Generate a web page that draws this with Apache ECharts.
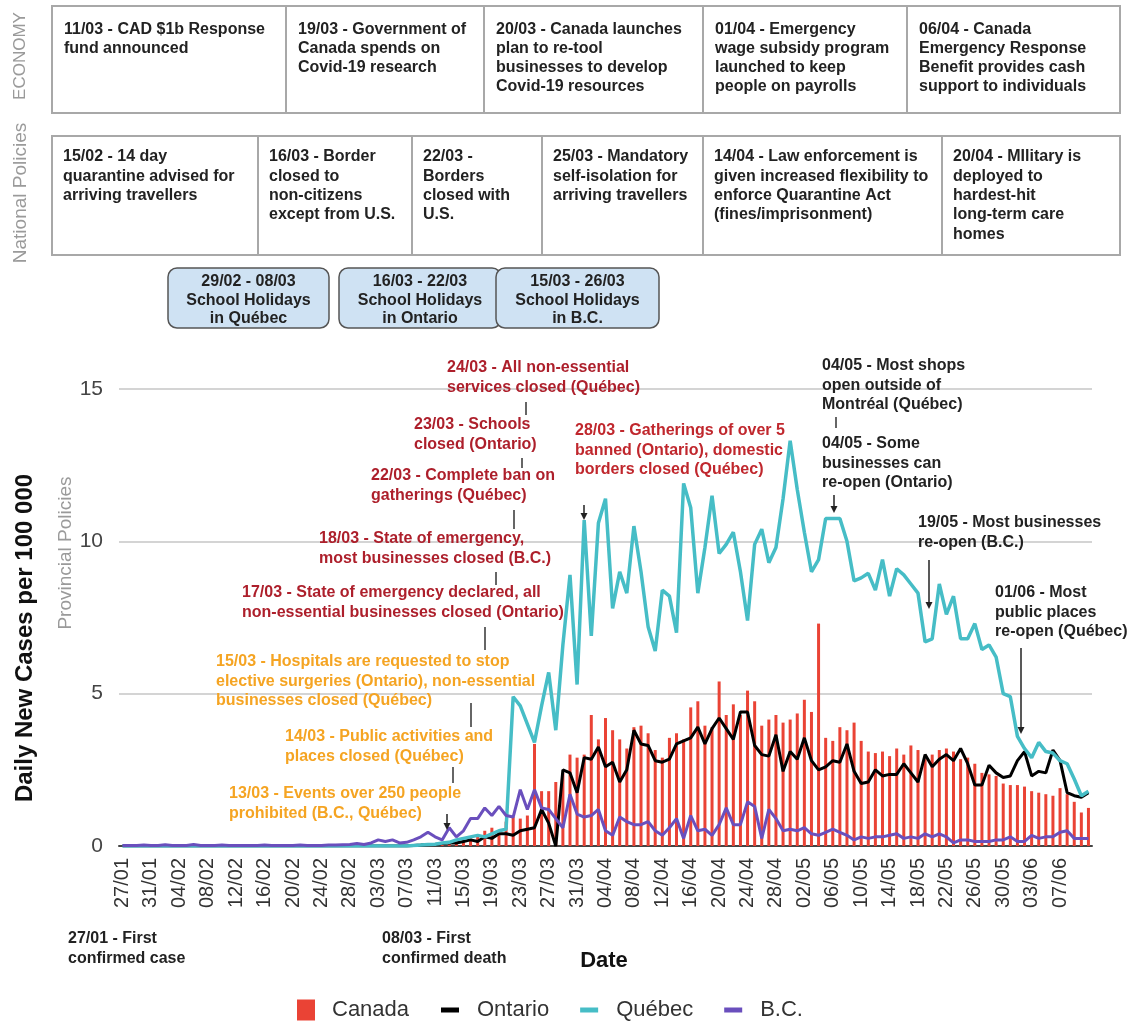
<!DOCTYPE html>
<html>
<head>
<meta charset="utf-8">
<script src="https://cdn.jsdelivr.net/npm/echarts@6/dist/echarts.min.js"></script>
<style>
html,body{margin:0;padding:0;background:#fff;}
#chart{width:1129px;height:1022px;}
</style>
</head>
<body>
<div id="chart"></div>
<script>
// ---------- DATA ----------
const dates = [
 '27/01','28/01','29/01','30/01','31/01',
 '01/02','02/02','03/02','04/02','05/02','06/02','07/02','08/02','09/02','10/02',
 '11/02','12/02','13/02','14/02','15/02','16/02','17/02','18/02','19/02','20/02',
 '21/02','22/02','23/02','24/02','25/02','26/02','27/02','28/02','29/02',
 '01/03','02/03','03/03','04/03','05/03','06/03','07/03','08/03','09/03','10/03',
 '11/03','12/03','13/03','14/03','15/03','16/03','17/03','18/03','19/03','20/03',
 '21/03','22/03','23/03','24/03','25/03','26/03','27/03','28/03','29/03','30/03','31/03',
 '01/04','02/04','03/04','04/04','05/04','06/04','07/04','08/04','09/04','10/04',
 '11/04','12/04','13/04','14/04','15/04','16/04','17/04','18/04','19/04','20/04',
 '21/04','22/04','23/04','24/04','25/04','26/04','27/04','28/04','29/04','30/04',
 '01/05','02/05','03/05','04/05','05/05','06/05','07/05','08/05','09/05','10/05',
 '11/05','12/05','13/05','14/05','15/05','16/05','17/05','18/05','19/05','20/05',
 '21/05','22/05','23/05','24/05','25/05','26/05','27/05','28/05','29/05','30/05','31/05',
 '01/06','02/06','03/06','04/06','05/06','06/06','07/06','08/06','09/06','10/06','11/06'
];
// dates that carry a tick label (every 4th day, last one 07/06)
const tickLabels = [
 '27/01','31/01','04/02','08/02','12/02','16/02','20/02','24/02','28/02','03/03','07/03','11/03',
 '15/03','19/03','23/03','27/03','31/03','04/04','08/04','12/04','16/04','20/04','24/04','28/04',
 '02/05','06/05','10/05','14/05','18/05','22/05','26/05','30/05','03/06','07/06'
];

const canada = [
 0,0,0,0,0,0,0,0,0,0,
 0,0,0,0,0,0,0,0,0,0,
 0,0,0,0,0,0,0,0,0,0,
 0,0,0,0,0,0,0,0,0,0,
 0.02,0.02,0.03,0.05,0.05,0.08,0.1,0.15,0.2,0.25,
 0.3,0.5,0.6,0.45,0.8,0.95,0.9,1.0,3.35,1.8,
 1.8,2.1,2.4,3.0,2.9,3.0,4.3,3.5,4.2,3.8,
 3.5,3.2,3.9,3.95,3.7,3.15,2.9,3.55,3.7,3.5,
 4.55,4.75,3.95,3.9,5.4,4.3,4.65,4.3,5.1,4.75,
 3.95,4.15,4.3,4.05,4.15,4.35,4.8,4.4,7.3,3.55,
 3.45,3.9,3.8,4.05,3.45,3.1,3.05,3.1,2.95,3.2,
 3.0,3.3,3.15,2.85,3.0,3.15,3.2,3.1,2.85,2.9,
 2.7,2.4,2.35,2.3,2.05,2.0,2.0,1.95,1.8,1.75,
 1.7,1.65,1.9,1.7,1.45,1.1,1.25
];

const ontario = [
 0,0,0,0,0,0,0,0,0,0,
 0,0,0,0,0,0,0,0,0,0,
 0,0,0,0,0,0,0,0,0,0,
 0,0,0,0,0,0,0,0,0,0,
 0,0.02,0.03,0.05,0.05,0.08,0.1,0.1,0.15,0.2,
 0.15,0.3,0.25,0.4,0.4,0.35,0.5,0.55,0.6,1.2,
 0.75,0,2.5,2.4,1.75,2.9,2.85,3.25,2.6,2.75,
 2.1,2.5,3.8,3.35,3.3,2.8,2.75,2.85,3.35,3.45,
 3.55,3.9,3.35,3.85,4.2,3.85,3.5,4.4,4.4,3.3,
 3.0,2.95,3.65,2.45,3.1,2.85,3.55,2.8,2.5,2.6,
 2.8,2.75,3.35,2.45,2.05,2.1,2.5,2.3,2.35,2.35,
 2.7,2.4,2.1,3.0,2.6,2.85,3.0,2.8,3.2,2.7,
 2.0,2.0,2.65,2.4,2.25,2.3,2.8,3.1,2.3,2.45,
 2.4,3.15,2.8,1.75,1.65,1.6,1.75
];

const quebec = [
 0,0,0,0,0,0,0,0,0,0,
 0,0,0,0,0,0,0,0,0,0,
 0,0,0,0,0,0,0,0,0,0,
 0,0,0,0,0,0,0,0,0,0,
 0,0.02,0.03,0.05,0.06,0.1,0.12,0.2,0.25,0.3,
 0.35,0.3,0.4,0.5,0.55,4.9,4.6,4.0,3.4,4.6,
 5.7,3.8,6.6,8.9,5.3,10.7,6.9,10.6,11.4,7.8,
 9.0,8.3,10.5,9.0,7.2,6.4,8.4,8.2,7.0,11.9,
 11.1,8.3,9.8,11.5,9.6,9.9,10.3,9.0,7.4,9.9,
 10.4,9.3,9.8,11.4,13.3,11.7,10.3,9.0,9.4,10.75,
 10.75,10.75,10.0,8.7,8.8,8.95,8.4,9.4,8.2,9.1,
 8.9,8.6,8.3,6.7,6.8,8.6,7.6,8.2,6.8,6.8,
 7.3,6.45,6.6,6.2,5.0,4.9,3.6,3.2,2.9,3.4,
 3.1,3.05,2.8,2.7,2.2,1.65,1.8
];

const bc = [
 0.02,0.02,0.02,0.03,0.02,0.02,0.04,0.02,0.02,0.02,
 0.05,0.02,0.02,0.02,0.03,0.02,0.02,0.02,0.02,0.02,
 0.03,0.02,0.02,0.02,0.02,0.03,0.02,0.02,0.02,0.03,
 0.03,0.04,0.05,0.08,0.05,0.1,0.2,0.15,0.2,0.1,
 0.12,0.2,0.3,0.45,0.3,0.2,0.6,0.3,0.5,0.9,
 0.9,1.25,1.0,1.3,1.0,0.95,1.85,1.2,1.85,1.25,
 1.2,0.9,0.6,1.7,1.05,0.95,1.0,1.2,0.5,0.35,
 0.95,0.8,0.7,0.7,0.8,0.5,0.35,0.6,0.9,0.25,
 1.0,0.5,0.55,0.35,0.7,1.25,0.7,0.7,1.45,1.3,
 0.25,1.2,0.9,0.5,0.55,0.5,0.6,0.4,0.35,0.45,
 0.55,0.45,0.35,0.2,0.3,0.25,0.3,0.3,0.35,0.4,
 0.25,0.3,0.25,0.4,0.3,0.4,0.3,0.1,0.2,0.2,
 0.15,0.15,0.15,0.2,0.2,0.3,0.15,0.15,0.35,0.25,
 0.3,0.3,0.45,0.5,0.25,0.25,0.25
];

const yTicks = [0, 5, 10, 15];

const economyEvents = [
 '11/03 - CAD $1b Response\nfund announced',
 '19/03 - Government of\nCanada spends on\nCovid-19 research',
 '20/03 - Canada launches\nplan to re-tool\nbusinesses to develop\nCovid-19 resources',
 '01/04 - Emergency\nwage subsidy program\nlaunched to keep\npeople on payrolls',
 '06/04 - Canada\nEmergency Response\nBenefit provides cash\nsupport to individuals'
];
const nationalEvents = [
 '15/02 - 14 day\nquarantine advised for\narriving travellers',
 '16/03 - Border\nclosed to\nnon-citizens\nexcept from U.S.',
 '22/03 -\nBorders\nclosed with\nU.S.',
 '25/03 - Mandatory\nself-isolation for\narriving travellers',
 '14/04 - Law enforcement is\ngiven increased flexibility to\nenforce Quarantine Act\n(fines/imprisonment)',
 '20/04 - MIlitary is\ndeployed to\nhardest-hit\nlong-term care\nhomes'
];
const schoolHolidays = [
 '29/02 - 08/03\nSchool Holidays\nin Québec',
 '16/03 - 22/03\nSchool Holidays\nin Ontario',
 '15/03 - 26/03\nSchool Holidays\nin B.C.'
];
const provincialNotes = [
 {t:'24/03 - All non-essential\nservices closed (Québec)', c:'red'},
 {t:'23/03 - Schools\nclosed (Ontario)', c:'red'},
 {t:'22/03 - Complete ban on\ngatherings (Québec)', c:'red'},
 {t:'18/03 - State of emergency,\nmost businesses closed (B.C.)', c:'red'},
 {t:'17/03 - State of emergency declared, all\nnon-essential businesses closed (Ontario)', c:'red'},
 {t:'28/03 - Gatherings of over 5\nbanned (Ontario), domestic\nborders closed (Québec)', c:'red2'},
 {t:'15/03 - Hospitals are requested to stop\nelective surgeries (Ontario), non-essential\nbusinesses closed (Québec)', c:'orange'},
 {t:'14/03 - Public activities and\nplaces closed (Québec)', c:'orange'},
 {t:'13/03 - Events over 250 people\nprohibited (B.C., Québec)', c:'orange'},
 {t:'04/05 - Most shops\nopen outside of\nMontréal (Québec)', c:'black'},
 {t:'04/05 - Some\nbusinesses can\nre-open (Ontario)', c:'black'},
 {t:'19/05 - Most businesses\nre-open (B.C.)', c:'black'},
 {t:'01/06 - Most\npublic places\nre-open (Québec)', c:'black'},
 {t:'27/01 - First\nconfirmed case', c:'black'},
 {t:'08/03 - First\nconfirmed death', c:'black'}
];

// ---------- LAYOUT / STYLE ----------
const F = '"Liberation Sans", Arial, Helvetica, sans-serif';
const COLORS = {red:'#ad1f2b', red2:'#c0272d', orange:'#f5a422', black:'#222222'};
const noteLayout = [
 [447,368],[414,425],[371,476],[319,539],[242,593],[575,431],
 [216,662],[285,737],[229,794],
 [822,366],[822,444],[918,523],[995,593],
 [68,939],[382,939]
];
const ticks = [[526,402,415],[522,458,468],[514,510,529],[496,572,585],[485,627,650],
               [471,703,727],[453,767,783],[836,417,428]];
const arrows = [[584,505,520],[447,814,830],[834,495,513],[929,560,609],[1021,648,734]];

const g = [];
function cellText(x, yc, txt, lh, font){
  return {type:'text', x:x, y:yc - lh/2, z:10,
    style:{text:txt, x:0, y:0, fill:'#222', font:font, lineHeight:lh,
           align:'left', verticalAlign:'top', textAlign:'left', textVerticalAlign:'top'}};
}
function rect(x1,y1,x2,y2,fill,stroke,lw,r){
  return {type:'rect', z:5, shape:{x:x1,y:y1,width:x2-x1,height:y2-y1,r:r||0},
    style:{fill:fill, stroke:stroke, lineWidth:lw}};
}
// Economy row
const ecoX = [52,286,484,703,907,1120];
for (let i=0;i<economyEvents.length;i++){
  g.push(rect(ecoX[i],6,ecoX[i+1],113,'#fff','#a8a8a8',2));
  g.push(cellText(ecoX[i]+12, 30, economyEvents[i], 19, 'bold 16px '+F));
}
// National row
const natX = [52,258,412,542,703,942,1120];
for (let i=0;i<nationalEvents.length;i++){
  g.push(rect(natX[i],136,natX[i+1],255,'#fff','#a8a8a8',2));
  g.push(cellText(natX[i]+11, 157, nationalEvents[i], 19.3, 'bold 16px '+F));
}
// School holiday boxes
const shX = [[168,329],[339,501],[496,659]];
for (let i=0;i<schoolHolidays.length;i++){
  g.push(rect(shX[i][0],268,shX[i][1],328,'#cfe2f3','#555',1.5,9));
  g.push({type:'text', z:10, x:(shX[i][0]+shX[i][1])/2, y:272.5,
    style:{text:schoolHolidays[i], fill:'#222', font:'bold 16px '+F, lineHeight:18.5,
           align:'center', verticalAlign:'top', textAlign:'center', textVerticalAlign:'top'}});
}
// side labels
function vText(x,y,txt,font,fill){
  return {type:'text', x:x, y:y, rotation:Math.PI/2, z:10,
    style:{text:txt, fill:fill, font:font, align:'center', verticalAlign:'middle',
           textAlign:'center', textVerticalAlign:'middle'}};
}
g.push(vText(20,56,'ECONOMY','17px '+F,'#9a9a9a'));
g.push(vText(21,193,'National Policies','19px '+F,'#9a9a9a'));
g.push(vText(66,553,'Provincial Policies','19px '+F,'#9a9a9a'));
g.push(vText(25,638,'Daily New Cases per 100 000','bold 24px '+F,'#111'));
g.push({type:'text', z:10, x:604, y:961,
  style:{text:'Date', fill:'#111', font:'bold 22px '+F, align:'center', verticalAlign:'middle',
         textAlign:'center', textVerticalAlign:'middle'}});
// annotations
provincialNotes.forEach((n,i)=>{
  const p = noteLayout[i];
  g.push({type:'text', z:10, x:p[0], y:p[1]-9.65,
    style:{text:n.t, fill:COLORS[n.c], font:'bold 16px '+F, lineHeight:19.3,
           align:'left', verticalAlign:'top', textAlign:'left', textVerticalAlign:'top'}});
});
ticks.forEach(t=>{
  g.push({type:'line', z:10, shape:{x1:t[0],y1:t[1],x2:t[0],y2:t[2]}, style:{stroke:'#333',lineWidth:1.5}});
});
arrows.forEach(a=>{
  g.push({type:'line', z:10, shape:{x1:a[0],y1:a[1],x2:a[0],y2:a[2]-4}, style:{stroke:'#222',lineWidth:1.5}});
  g.push({type:'polygon', z:10, shape:{points:[[a[0]-3.5,a[2]-7],[a[0]+3.5,a[2]-7],[a[0],a[2]]]}, style:{fill:'#222'}});
});

// ---------- CHART ----------
const chart = echarts.init(document.getElementById('chart'), null, {renderer:'canvas'});
chart.setOption({
  animation:false,
  backgroundColor:'#fff',
  color:['#ea4335','#000000','#46bdc6','#6a4fbd'],
  textStyle:{fontFamily:F},
  grid:{left:119, right:37, top:389, bottom:176, containLabel:false},
  legend:[
    {data:['Canada'], left:292, top:994, icon:'rect', itemWidth:18, itemHeight:21,
     textStyle:{fontSize:22, color:'#333', fontFamily:F, padding:[0,0,0,12]}, selectedMode:false},
    {data:['Ontario','Québec','B.C.'], left:436, top:994, icon:'rect', itemWidth:18, itemHeight:5, itemGap:31,
     textStyle:{fontSize:22, color:'#333', fontFamily:F, padding:[0,0,0,13]}, selectedMode:false}
  ],
  xAxis:{type:'category', data:dates, boundaryGap:true,
    axisLine:{lineStyle:{color:'#444', width:2}},
    axisTick:{show:false},
    axisLabel:{interval:(idx, val) => tickLabels.indexOf(val) >= 0,
      rotate:90, fontSize:20, color:'#333', margin:12, fontFamily:F}
  },
  yAxis:{type:'value', min:yTicks[0], max:yTicks[yTicks.length-1], interval:5,
    axisLine:{show:false}, axisTick:{show:false},
    axisLabel:{fontSize:21, color:'#444', margin:16, fontFamily:F},
    splitLine:{lineStyle:{color:'#d4d4d4', width:2}}
  },
  series:[
    {name:'Canada', type:'bar', data:canada, barWidth:3, itemStyle:{color:'#ea4335'}, z:1},
    {name:'Ontario', type:'line', data:ontario, showSymbol:false, symbol:'none',
     lineStyle:{color:'#000', width:3}, itemStyle:{color:'#000'}, z:2},
    {name:'Québec', type:'line', data:quebec, showSymbol:false, symbol:'none',
     lineStyle:{color:'#46bdc6', width:3.5}, itemStyle:{color:'#46bdc6'}, z:3},
    {name:'B.C.', type:'line', data:bc, showSymbol:false, symbol:'none',
     lineStyle:{color:'#6a4fbd', width:3}, itemStyle:{color:'#6a4fbd'}, z:4}
  ],
  graphic:g
});
</script>
</body>
</html>
